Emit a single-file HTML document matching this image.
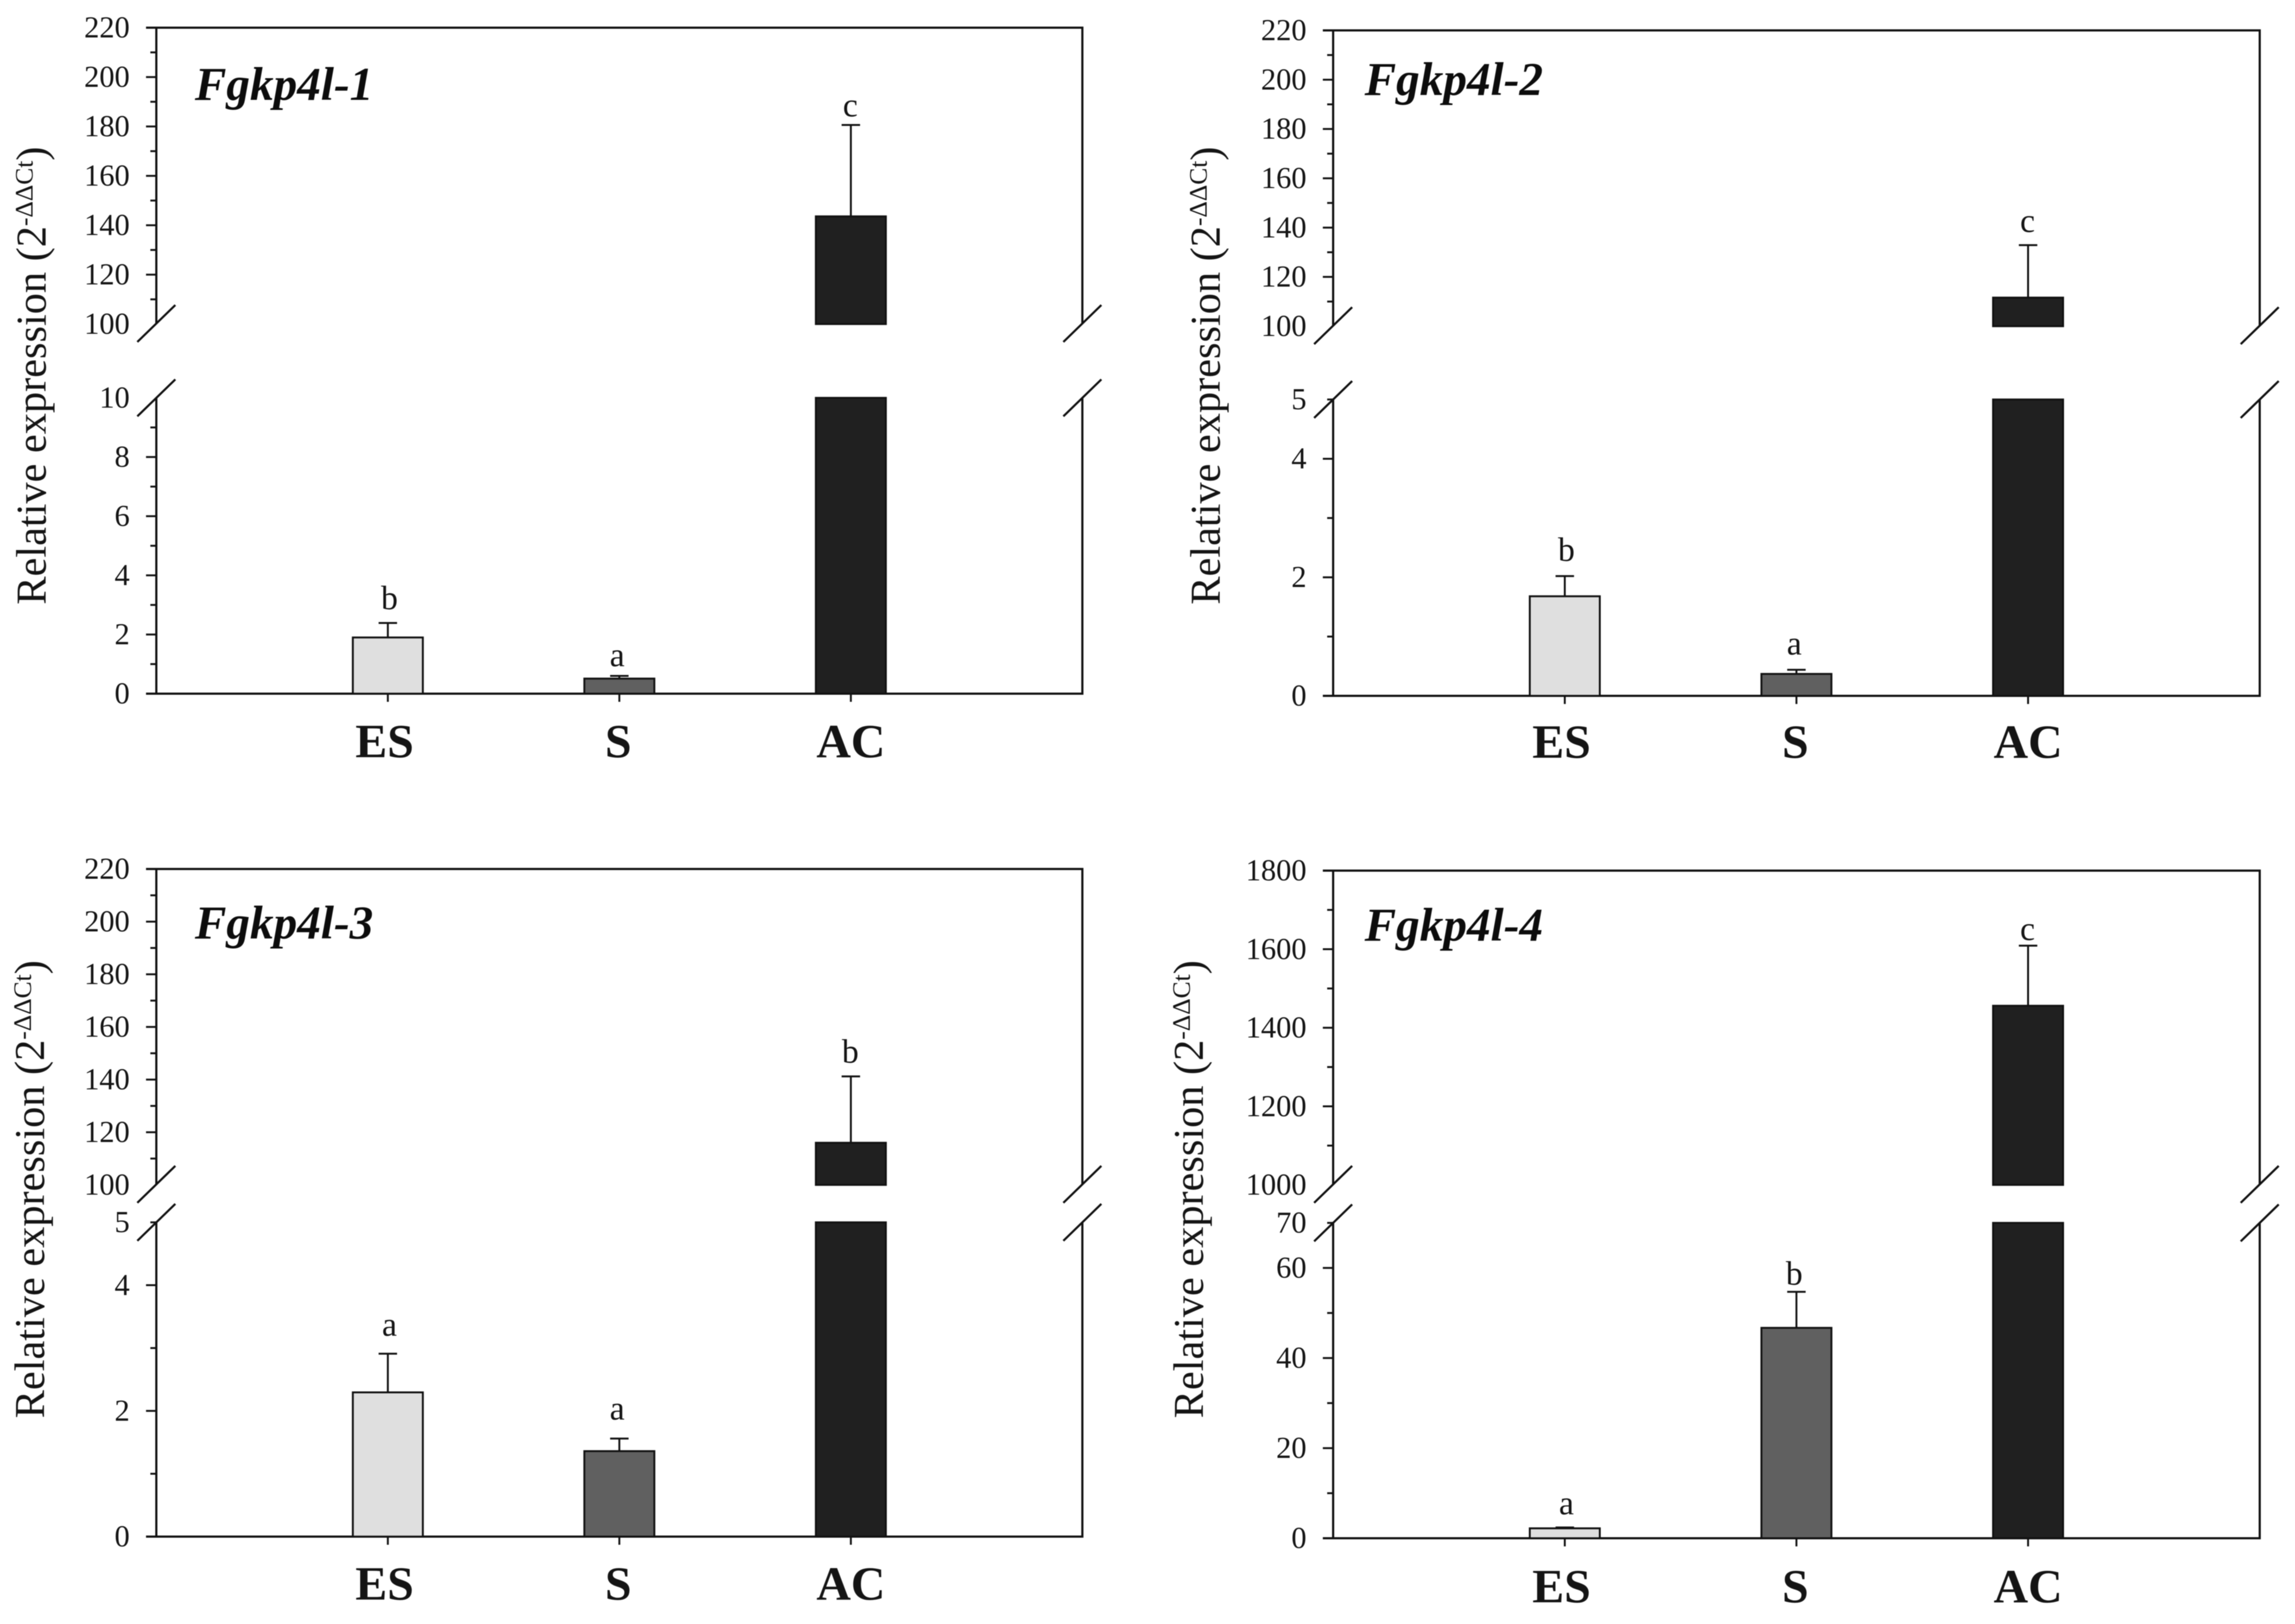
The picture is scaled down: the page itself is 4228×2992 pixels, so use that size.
<!DOCTYPE html>
<html lang="en">
<head>
<meta charset="utf-8">
<title>Relative expression of Fgkp4l genes</title>
<style>
  html, body { margin: 0; padding: 0; background: #fff; }
  svg { display: block; filter: blur(0.9px); }
  text { font-family: "Liberation Serif", serif; fill: #141414; }
  .gene-title { font-size: 87px; font-weight: bold; font-style: italic; fill: #0c0c0c; }
  .y-title { font-size: 78px; }
  .y-title tspan { font-size: 47px; }
</style>
</head>
<body>
<svg id="chart" xmlns="http://www.w3.org/2000/svg" width="4228" height="2992" viewBox="0 0 4228 2992">
  <rect x="0" y="0" width="4228" height="2992" fill="#ffffff"/>
  <g id="panel-1">
    <text class="gene-title" x="359" y="184">Fgkp4l-1</text>
    <text class="y-title" transform="translate(84 1114) rotate(-90)">Relative expression (2<tspan dy="-24">-ΔΔCt</tspan><tspan dy="24" style="font-size:78px">)</tspan></text>
  </g>
  <g id="panel-2">
    <text class="gene-title" x="2514" y="175">Fgkp4l-2</text>
    <text class="y-title" transform="translate(2247 1114) rotate(-90)">Relative expression (2<tspan dy="-24">-ΔΔCt</tspan><tspan dy="24" style="font-size:78px">)</tspan></text>
  </g>
  <g id="panel-3">
    <text class="gene-title" x="359" y="1729">Fgkp4l-3</text>
    <text class="y-title" transform="translate(81 2613) rotate(-90)">Relative expression (2<tspan dy="-24">-ΔΔCt</tspan><tspan dy="24" style="font-size:78px">)</tspan></text>
  </g>
  <g id="panel-4">
    <text class="gene-title" x="2514" y="1733">Fgkp4l-4</text>
    <text class="y-title" transform="translate(2216 2613) rotate(-90)">Relative expression (2<tspan dy="-24">-ΔΔCt</tspan><tspan dy="24" style="font-size:78px">)</tspan></text>
  </g>
</svg>
<script>
// ---- data ----
const categories = ["ES", "S", "AC"];

const panel1Values = [1.9, 0.51, 143.6];
const panel1ErrorTops = [2.39, 0.6, 180.6];
const panel1Letters = ["b", "a", "c"];
const panel1UpperLabels = [100, 120, 140, 160, 180, 200, 220];
const panel1UpperMinor = [110, 130, 150, 170, 190, 210];
const panel1LowerLabels = [0, 2, 4, 6, 8, 10];
const panel1LowerMinor = [1, 3, 5, 7, 9];

const panel2Values = [1.68, 0.37, 111.6];
const panel2ErrorTops = [2.02, 0.44, 132.9];
const panel2Letters = ["b", "a", "c"];
const panel2UpperLabels = [100, 120, 140, 160, 180, 200, 220];
const panel2UpperMinor = [110, 130, 150, 170, 190, 210];
const panel2LowerLabels = [0, 2, 4, 5];
const panel2LowerMinor = [1, 3, 5];

const panel3Values = [2.295, 1.36, 116];
const panel3ErrorTops = [2.91, 1.56, 141.2];
const panel3Letters = ["a", "a", "b"];
const panel3UpperLabels = [100, 120, 140, 160, 180, 200, 220];
const panel3UpperMinor = [110, 130, 150, 170, 190, 210];
const panel3LowerLabels = [0, 2, 4, 5];
const panel3LowerMinor = [1, 3, 5];

const panel4Values = [2.2, 46.7, 1456];
const panel4ErrorTops = [2.4, 54.7, 1609];
const panel4Letters = ["a", "b", "c"];
const panel4UpperLabels = [1000, 1200, 1400, 1600, 1800];
const panel4UpperMinor = [1100, 1300, 1500, 1700];
const panel4LowerLabels = [0, 20, 40, 60, 70];
const panel4LowerMinor = [10, 30, 50, 70];

// ---- layout (pixels), kept apart from the data ----
const layouts = [
  { id: "panel-1", left: 288, right: 1994, top: 51, upperBottom: 597, lowerTop: 733, base: 1278, upperMin: 100, upperMax: 220, lowerMax: 10, labelRight: 239, catBaseline: 1395, letterGaps: [25, 18, 16] },
  { id: "panel-2", left: 2456, right: 4163, top: 56, upperBottom: 601, lowerTop: 736, base: 1282, upperMin: 100, upperMax: 220, lowerMax: 5, labelRight: 2407, catBaseline: 1396, letterGaps: [28, 28, 24] },
  { id: "panel-3", left: 288, right: 1994, top: 1601, upperBottom: 2183, lowerTop: 2252, base: 2831, upperMin: 100, upperMax: 220, lowerMax: 5, labelRight: 239, catBaseline: 2947, letterGaps: [33, 35, 25] },
  { id: "panel-4", left: 2456, right: 4163, top: 1604, upperBottom: 2183, lowerTop: 2253, base: 2834, upperMin: 1000, upperMax: 1800, lowerMax: 70, labelRight: 2407, catBaseline: 2952, letterGaps: [24, 13, 10] }
];

const panelData = [
  { values: panel1Values, errors: panel1ErrorTops, letters: panel1Letters, upperLabels: panel1UpperLabels, upperMinor: panel1UpperMinor, lowerLabels: panel1LowerLabels, lowerMinor: panel1LowerMinor },
  { values: panel2Values, errors: panel2ErrorTops, letters: panel2Letters, upperLabels: panel2UpperLabels, upperMinor: panel2UpperMinor, lowerLabels: panel2LowerLabels, lowerMinor: panel2LowerMinor },
  { values: panel3Values, errors: panel3ErrorTops, letters: panel3Letters, upperLabels: panel3UpperLabels, upperMinor: panel3UpperMinor, lowerLabels: panel3LowerLabels, lowerMinor: panel3LowerMinor },
  { values: panel4Values, errors: panel4ErrorTops, letters: panel4Letters, upperLabels: panel4UpperLabels, upperMinor: panel4UpperMinor, lowerLabels: panel4LowerLabels, lowerMinor: panel4LowerMinor }
];

const barFills = ["#dfdfdf", "#606060", "#202020"];
const INK = "#111111";
const NS = "http://www.w3.org/2000/svg";
const catLabelShift = [-6, -2, 0];
const letterShift = [3, -4, -1];

function mk(tag, attrs, parent) {
  const el = document.createElementNS(NS, tag);
  for (const k in attrs) el.setAttribute(k, attrs[k]);
  parent.appendChild(el);
  return el;
}
function line(parent, x1, y1, x2, y2, w) {
  return mk("line", { x1: x1, y1: y1, x2: x2, y2: y2, stroke: INK, "stroke-width": w }, parent);
}

layouts.forEach(function (L, p) {
  const D = panelData[p];
  const g = document.getElementById(L.id);

  // axis functions
  const xScale = function (i) { return L.left + (L.right - L.left) * (i + 1) / 4; };
  const yUpper = function (v) { return L.upperBottom - (v - L.upperMin) / (L.upperMax - L.upperMin) * (L.upperBottom - L.top); };
  const yLower = function (v) { return L.base - v / L.lowerMax * (L.base - L.lowerTop); };
  const yScale = function (v) { return v > L.lowerMax ? yUpper(v) : yLower(v); };

  // frame
  const axisW = 4;
  let el;
  el = line(g, L.left - 19, L.top, L.right + 2, L.top, axisW);
  
  
  el = line(g, L.left - 19, L.base, L.right + 2, L.base, axisW);
  
  
  el = line(g, L.left, L.top, L.left, L.upperBottom, axisW);
  
  
  el = line(g, L.left, L.lowerTop, L.left, L.base, axisW);
  
  
  el = line(g, L.right, L.top, L.right, L.upperBottom, axisW);
  
  
  el = line(g, L.right, L.lowerTop, L.right, L.base, axisW);
  
  

  // axis-break slashes
  [L.left, L.right].forEach(function (bx) {
    [L.upperBottom - 1, L.lowerTop].forEach(function (by) {
      const s = line(g, bx - 35, by + 34, bx + 35, by - 34, 4);
      
      
    });
  });

  // y ticks + labels
  function addLabel(v, y) {
    const t = mk("text", { x: L.labelRight, y: y + 18, "text-anchor": "end", "font-size": 56 }, g);
    
    
    t.textContent = String(v);
  }
  function addMajor(y) {
    const t = line(g, L.left - 19, y, L.left, y, 3.5);
    
    
  }
  function addMinor(y) {
    const t = line(g, L.left - 11, y, L.left, y, 3.5);
    
    
  }
  D.upperLabels.forEach(function (v) {
    const y = yUpper(v);
    if (v !== L.upperMin && v !== L.upperMax) addMajor(y);
    addLabel(v, y);
  });
  D.upperMinor.forEach(function (v) { addMinor(yUpper(v)); });
  D.lowerLabels.forEach(function (v) {
    const y = yLower(v);
    if (v !== L.lowerMax && v !== 0) addMajor(y);
    addLabel(v, y);
  });
  D.lowerMinor.forEach(function (v) { addMinor(yLower(v)); });

  // bars, error bars, letters, category labels
  const barW = 129;
  categories.forEach(function (cat, i) {
    const cx = xScale(i);
    const v = D.values[i];
    const e = D.errors[i];
    const style = { fill: barFills[i], stroke: INK, "stroke-width": 3.5 };

    const tick = line(g, cx, L.base, cx, L.base + 15, 3.5);
    
    

    const errTop = yScale(e);
    const errBottom = yScale(v);
    const stem = line(g, cx, errTop, cx, errBottom, 3.5);
    
    
    const cap = line(g, cx - 17, errTop, cx + 17, errTop, 3.5);
    
    

    if (v > L.lowerMax) {
      const lo = mk("rect", Object.assign({ x: cx - barW / 2, y: yLower(L.lowerMax), width: barW, height: L.base - yLower(L.lowerMax) }, style), g);
      
      
      const up = mk("rect", Object.assign({ x: cx - barW / 2, y: yUpper(v), width: barW, height: L.upperBottom - yUpper(v) }, style), g);
      
      
    } else {
      const bar = mk("rect", Object.assign({ x: cx - barW / 2, y: yLower(v), width: barW, height: L.base - yLower(v) }, style), g);
      
      
    }

    const letter = mk("text", { x: cx + letterShift[i], y: errTop - L.letterGaps[i], "text-anchor": "middle", "font-size": 62 }, g);
    
    
    letter.textContent = D.letters[i];

    const label = mk("text", { x: cx + catLabelShift[i], y: L.catBaseline, "text-anchor": "middle", "font-size": 88, "font-weight": "bold" }, g);
    
    
    label.textContent = cat;
  });
});
</script>
</body>
</html>
